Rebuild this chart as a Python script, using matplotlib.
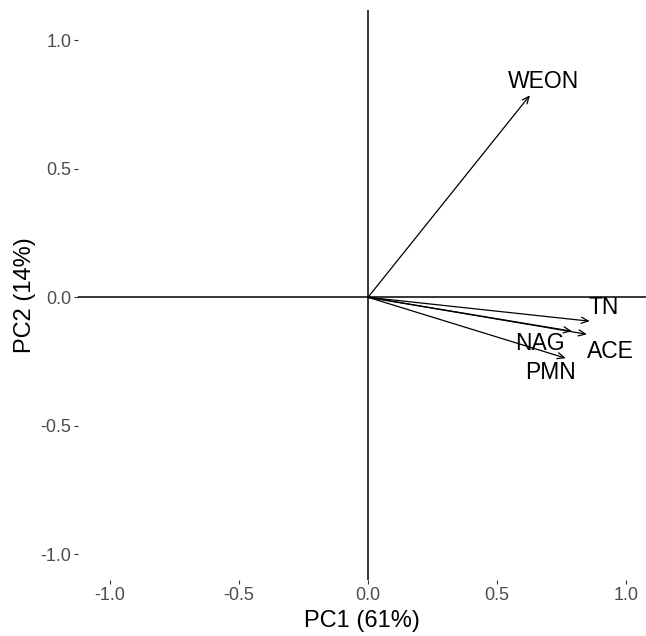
import matplotlib.pyplot as plt
import numpy as np

plt.rcParams['font.family'] = ['Liberation Sans', 'DejaVu Sans']

variables = ['WEON', 'TN', 'ACE', 'NAG', 'PMN']
pc1 = [0.628, 0.860, 0.849, 0.791, 0.767]
pc2 = [0.786, -0.093, -0.144, -0.132, -0.237]
ticks = [-1.0, -0.5, 0.0, 0.5, 1.0]

# label offsets from the arrow tips, in pixels
offsets = {'WEON': (13.5, 14), 'TN': (14, 14), 'ACE': (23, -17),
           'NAG': (-32, -12), 'PMN': (-15, -14)}

fig = plt.figure(figsize=(6.46, 6.36), dpi=100)
ax = fig.add_axes([0.121, 0.088, 0.879, 0.896])

ax.axhline(0, color='black', lw=1.1)
ax.axvline(0, color='black', lw=1.1)

for name, x, y in zip(variables, pc1, pc2):
    ax.annotate('', xy=(x, y), xytext=(0, 0),
                arrowprops=dict(arrowstyle='->,head_length=0.5,head_width=0.22',
                                color='black', lw=0.9, shrinkA=0, shrinkB=0))
    dx, dy = offsets[name]
    ax.annotate(name, xy=(x, y), xytext=(dx * 0.72, dy * 0.72),
                textcoords='offset points', ha='center', va='center',
                fontsize=16.5, color='black')

ax.set_xlim(-1.124, 1.078)
ax.set_ylim(-1.10, 1.117)
ax.set_xticks(ticks)
ax.set_yticks(ticks)
ax.set_xticklabels([f'{t:.1f}' for t in ticks])
ax.set_yticklabels([f'{t:.1f}' for t in ticks])
ax.tick_params(colors='#333333', labelcolor='#4d4d4d', labelsize=13,
               length=3, width=0.8, pad=2)
for s in ax.spines.values():
    s.set_visible(False)

ax.set_xlabel('PC1 (61%)', fontsize=17, labelpad=4)
ax.set_ylabel('PC2 (14%)', fontsize=17, labelpad=3)

fig.savefig('out.png', dpi=100)
